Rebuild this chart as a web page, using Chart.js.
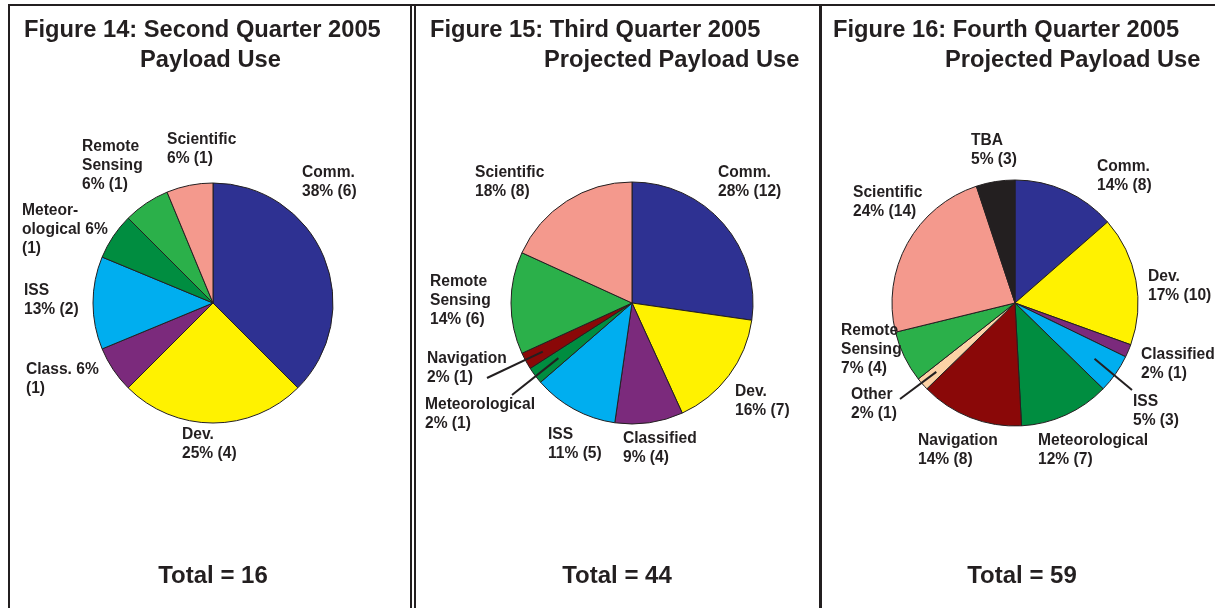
<!DOCTYPE html>
<html><head><meta charset="utf-8">
<script src="https://cdn.jsdelivr.net/npm/chart.js@4.4.1/dist/chart.umd.min.js"></script>
<style>
html,body{margin:0;padding:0;background:#fff;width:1215px;height:608px;overflow:hidden}
body{position:relative}
canvas{position:absolute;left:0;top:0}
.ln{position:absolute;background:#231f20}
</style></head><body>
<div class="ln" style="left:8px;top:4px;width:1207px;height:2px"></div>
<div class="ln" style="left:8px;top:4px;width:2px;height:604px"></div>
<div class="ln" style="left:410px;top:4px;width:2px;height:604px"></div>
<div class="ln" style="left:414px;top:4px;width:2px;height:604px"></div>
<div class="ln" style="left:819px;top:4px;width:3px;height:604px"></div>
<canvas id="c1" width="1215" height="608"></canvas>
<canvas id="c2" width="1215" height="608"></canvas>
<canvas id="c3" width="1215" height="608"></canvas>
<script>
// ---- data ----
const q2Categories = ['Comm.', 'Dev.', 'Classified', 'ISS', 'Meteorological', 'Remote Sensing', 'Scientific'];
const q2Values = [6, 4, 1, 2, 1, 1, 1];
const q2Percents = [38, 25, 6, 13, 6, 6, 6];
const q2Names = [['Comm.'], ['Dev.'], ['Class.'], ['ISS'], ['Meteor-', 'ological'], ['Remote', 'Sensing'], ['Scientific']];

const q3Categories = ['Comm.', 'Dev.', 'Classified', 'ISS', 'Meteorological', 'Navigation', 'Remote Sensing', 'Scientific'];
const q3Values = [12, 7, 4, 5, 1, 1, 6, 8];
const q3Percents = [28, 16, 9, 11, 2, 2, 14, 18];
const q3Names = [['Comm.'], ['Dev.'], ['Classified'], ['ISS'], ['Meteorological'], ['Navigation'], ['Remote', 'Sensing'], ['Scientific']];

const q4Categories = ['Comm.', 'Dev.', 'Classified', 'ISS', 'Meteorological', 'Navigation', 'Other', 'Remote Sensing', 'Scientific', 'TBA'];
const q4Values = [8, 10, 1, 3, 7, 8, 1, 4, 14, 3];
const q4Percents = [14, 17, 2, 5, 12, 14, 2, 7, 24, 5];
const q4Names = [['Comm.'], ['Dev.'], ['Classified'], ['ISS'], ['Meteorological'], ['Navigation'], ['Other'], ['Remote', 'Sensing'], ['Scientific'], ['TBA']];

const titleLines = [
  ['Figure 14: Second Quarter 2005', 'Payload Use'],
  ['Figure 15: Third Quarter 2005', 'Projected Payload Use'],
  ['Figure 16: Fourth Quarter 2005', 'Projected Payload Use']
];
const totalLabels = ['Total = 16', 'Total = 44', 'Total = 59'];

// ---- styles ----
const COLORS = {
  'Comm.': '#2e3192', 'Dev.': '#fff200', 'Classified': '#7b2a7c', 'ISS': '#00aeef',
  'Meteorological': '#008d40', 'Remote Sensing': '#2bb04a', 'Scientific': '#f4998d',
  'Navigation': '#8a0808', 'Other': '#fcd2a6', 'TBA': '#231f20'
};
const FONT = '"Liberation Sans", Arial, Helvetica, sans-serif';
const INK = '#231f20';

// layout per panel: pie centre/radius, title placement, label placement
const layouts = [
  { cx: 213, cy: 303, r: 120,
    title: [[24, 37], [140, 67]], total: [213, 576],
    labels: [
      { x: 302, y: 173 }, { x: 182, y: 435 }, { x: 26, y: 370, inline: true }, { x: 24, y: 291 },
      { x: 22, y: 211, inline: true }, { x: 82, y: 147 }, { x: 167, y: 140 }
    ] },
  { cx: 632, cy: 303, r: 121,
    title: [[430, 37], [544, 67]], total: [617, 576],
    labels: [
      { x: 718, y: 173 }, { x: 735, y: 392 }, { x: 623, y: 439 }, { x: 548, y: 435 },
      { x: 425, y: 405, lead: [512, 395, 0.76] }, { x: 427, y: 359, lead: [487, 378, 0.84] },
      { x: 430, y: 282 }, { x: 475, y: 173 }
    ] },
  { cx: 1015, cy: 303, r: 123,
    title: [[833, 37], [945, 67]], total: [1022, 576],
    labels: [
      { x: 1097, y: 167 }, { x: 1148, y: 277 }, { x: 1141, y: 355 }, { x: 1133, y: 402, lead: [1132, 390, 0.79] },
      { x: 1038, y: 441 }, { x: 918, y: 441 }, { x: 851, y: 395, lead: [900, 399, 0.85] },
      { x: 841, y: 331 }, { x: 853, y: 193 }, { x: 971, y: 141 }
    ] }
];

function labelLines(names, pct, val, inline) {
  const lines = names.slice();
  if (inline) {
    lines[lines.length - 1] += ' ' + pct + '%';
    lines.push('(' + val + ')');
  } else {
    lines.push(pct + '% (' + val + ')');
  }
  return lines;
}

const textPlugin = {
  id: 'panelText',
  afterDraw(chart) {
    const o = chart.options.plugins.panelText;
    const L = o.layout;
    const ctx = chart.ctx;
    ctx.save();
    ctx.fillStyle = INK;
    ctx.strokeStyle = INK;
    // title
    ctx.font = 'bold 23.7px ' + FONT;
    ctx.textAlign = 'left';
    ctx.textBaseline = 'alphabetic';
    o.title.forEach((t, i) => ctx.fillText(t, L.title[i][0], L.title[i][1]));
    // total
    ctx.font = 'bold 24px ' + FONT;
    ctx.textAlign = 'center';
    ctx.textBaseline = 'middle';
    ctx.fillText(o.total, L.total[0], L.total[1]);
    // labels
    const meta = chart.getDatasetMeta(0);
    ctx.font = 'bold 15.6px ' + FONT;
    ctx.textAlign = 'left';
    o.names.forEach((nm, i) => {
      const p = L.labels[i];
      const lines = labelLines(nm, o.percents[i], o.values[i], p.inline);
      lines.forEach((s, k) => ctx.fillText(s, p.x, p.y + k * 19));
      if (p.lead) {
        const arc = meta.data[i];
        const a = (arc.startAngle + arc.endAngle) / 2;
        const rr = arc.outerRadius * p.lead[2];
        ctx.lineWidth = 2;
        ctx.beginPath();
        ctx.moveTo(p.lead[0], p.lead[1]);
        ctx.lineTo(arc.x + Math.cos(a) * rr, arc.y + Math.sin(a) * rr);
        ctx.stroke();
      }
    });
    ctx.restore();
  }
};

function makePie(id, idx, cats, vals, pcts, names) {
  const L = layouts[idx];
  const W = 1215, H = 608, R = L.r + 2;
  new Chart(document.getElementById(id), {
    type: 'pie',
    data: {
      labels: cats,
      datasets: [{
        data: vals,
        backgroundColor: cats.map(c => COLORS[c]),
        borderColor: INK,
        borderWidth: 1,
        radius: L.r
      }]
    },
    options: {
      responsive: false,
      animation: false,
      events: [],
      layout: { padding: { left: L.cx - R, right: W - L.cx - R, top: L.cy - R, bottom: H - L.cy - R } },
      plugins: {
        legend: { display: false },
        tooltip: { enabled: false },
        title: { display: false },
        panelText: { layout: L, title: titleLines[idx], total: totalLabels[idx], names: names, percents: pcts, values: vals }
      }
    },
    plugins: [textPlugin]
  });
}

makePie('c1', 0, q2Categories, q2Values, q2Percents, q2Names);
makePie('c2', 1, q3Categories, q3Values, q3Percents, q3Names);
makePie('c3', 2, q4Categories, q4Values, q4Percents, q4Names);
</script>
</body></html>
